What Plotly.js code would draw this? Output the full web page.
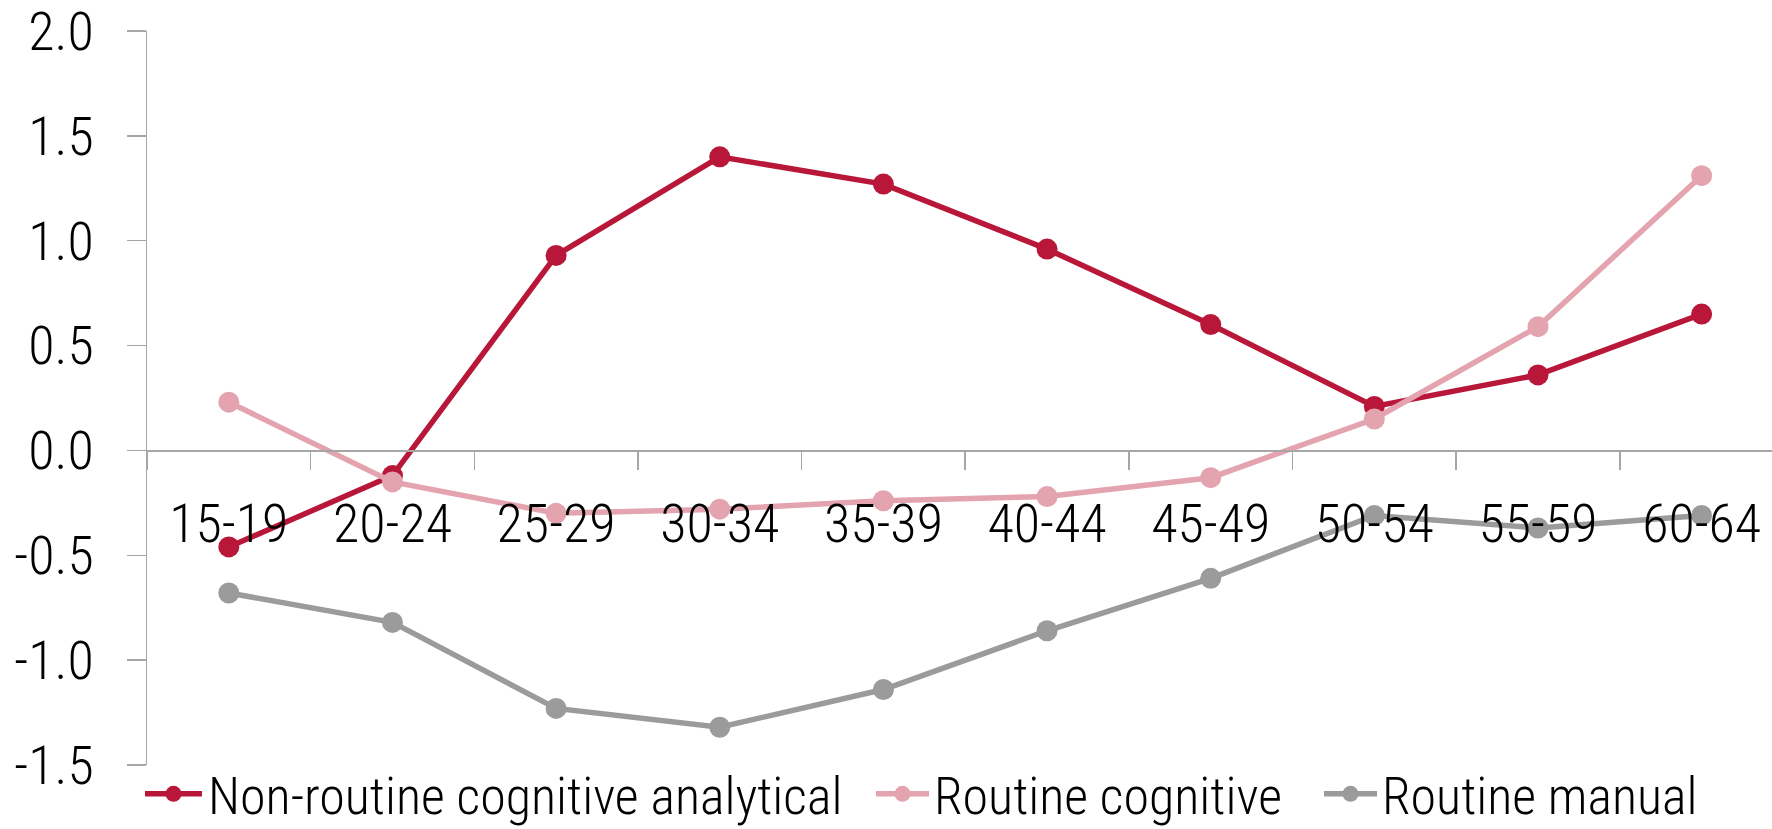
<!DOCTYPE html>
<html>
<head>
<meta charset="utf-8">
<script src="https://cdn.plot.ly/plotly-3.0.1.min.js"></script>
<style>
html, body { margin: 0; padding: 0; background: #fff; overflow: hidden; }
#chart { width: 1772px; height: 829px; }
</style>
</head>
<body>
<div id="chart"></div>
<script>
const categories = ['15-19','20-24','25-29','30-34','35-39','40-44','45-49','50-54','55-59','60-64'];
const nonRoutineAnalytical = [-0.46, -0.12, 0.93, 1.40, 1.27, 0.96, 0.60, 0.21, 0.36, 0.65];
const routineCognitive = [0.23, -0.15, -0.30, -0.28, -0.24, -0.22, -0.13, 0.15, 0.59, 1.31];
const routineManual = [-0.68, -0.82, -1.23, -1.32, -1.14, -0.86, -0.61, -0.31, -0.37, -0.31];
const seriesNames = ['Non-routine cognitive analytical', 'Routine cognitive', 'Routine manual'];
const yTickVals = [-1.5, -1.0, -0.5, 0.0, 0.5, 1.0, 1.5, 2.0];
const yTickText = ['-1.5', '-1.0', '-0.5', '0.0', '0.5', '1.0', '1.5', '2.0'];

const FONT = '"Roboto Condensed", "Liberation Sans Narrow", Roboto, sans-serif';
const colors = ['#B8173A', '#E3A3AF', '#9B9B9B'];
const seriesData = [nonRoutineAnalytical, routineCognitive, routineManual];
const legendIds = ['legend', 'legend2', 'legend3'];
const legendX = [145, 871, 1319];

const traces = seriesData.map((ys, i) => ({
  type: 'scatter',
  mode: 'lines+markers',
  name: seriesNames[i],
  legend: legendIds[i],
  x: categories,
  y: ys,
  line: { color: colors[i], width: 5.5 },
  marker: { color: colors[i], size: 21, symbol: 'circle' },
  cliponaxis: false
}));

const W = 1772, H = 829;
const L = 146.7, T = 30.7, B = 829 - 764.7;

function legendCfg(i) {
  return {
    xref: 'container', yref: 'container',
    x: legendX[i] / W, xanchor: 'left',
    y: 1 - 794 / H, yanchor: 'middle',
    font: { family: FONT, size: 52, color: '#000', weight: 300 },
    itemwidth: 53,
    bgcolor: 'rgba(0,0,0,0)', borderwidth: 0
  };
}

const layout = {
  width: W, height: H,
  margin: { l: L, r: 0, t: T, b: B, autoexpand: false },
  paper_bgcolor: '#fff', plot_bgcolor: '#fff',
  font: { family: FONT, color: '#000', size: 50, weight: 300 },
  showlegend: true,
  legend: legendCfg(0),
  legend2: legendCfg(1),
  legend3: legendCfg(2),
  xaxis: {
    type: 'category',
    range: [-0.5, 9.43],
    anchor: 'free',
    position: 1.5 / 3.5,
    showline: true, linecolor: '#A6A6A6', linewidth: 1.5,
    ticks: 'outside', ticklen: 18, tickcolor: '#A6A6A6', tickwidth: 1.5,
    tickson: 'boundaries',
    showgrid: false, zeroline: false,
    tickfont: { family: FONT, size: 54, color: '#000', weight: 300 },
    ticklabelstandoff: 25,
    ticklabeloverflow: 'allow',
    fixedrange: true
  },
  yaxis: {
    range: [-1.5, 2.0],
    tickvals: yTickVals, ticktext: yTickText,
    showline: true, linecolor: '#A6A6A6', linewidth: 1.5,
    ticks: 'outside', ticklen: 19, tickcolor: '#A6A6A6', tickwidth: 1.5,
    showgrid: false, zeroline: false,
    tickfont: { family: FONT, size: 54, color: '#000', weight: 300 },
    ticklabelstandoff: 22,
    ticklabeloverflow: 'allow',
    fixedrange: true
  }
};

Plotly.newPlot('chart', traces, layout, { staticPlot: true, displayModeBar: false }).then(gd => {
  gd.querySelectorAll('.legend .traces').forEach(g => {
    g.querySelectorAll('.legendlines path').forEach(p => p.setAttribute('d', 'M0,0h57'));
    g.querySelectorAll('.legendpoints path').forEach(p => p.setAttribute('transform', 'translate(28.5,0)'));
  });
});
</script>
</body>
</html>
